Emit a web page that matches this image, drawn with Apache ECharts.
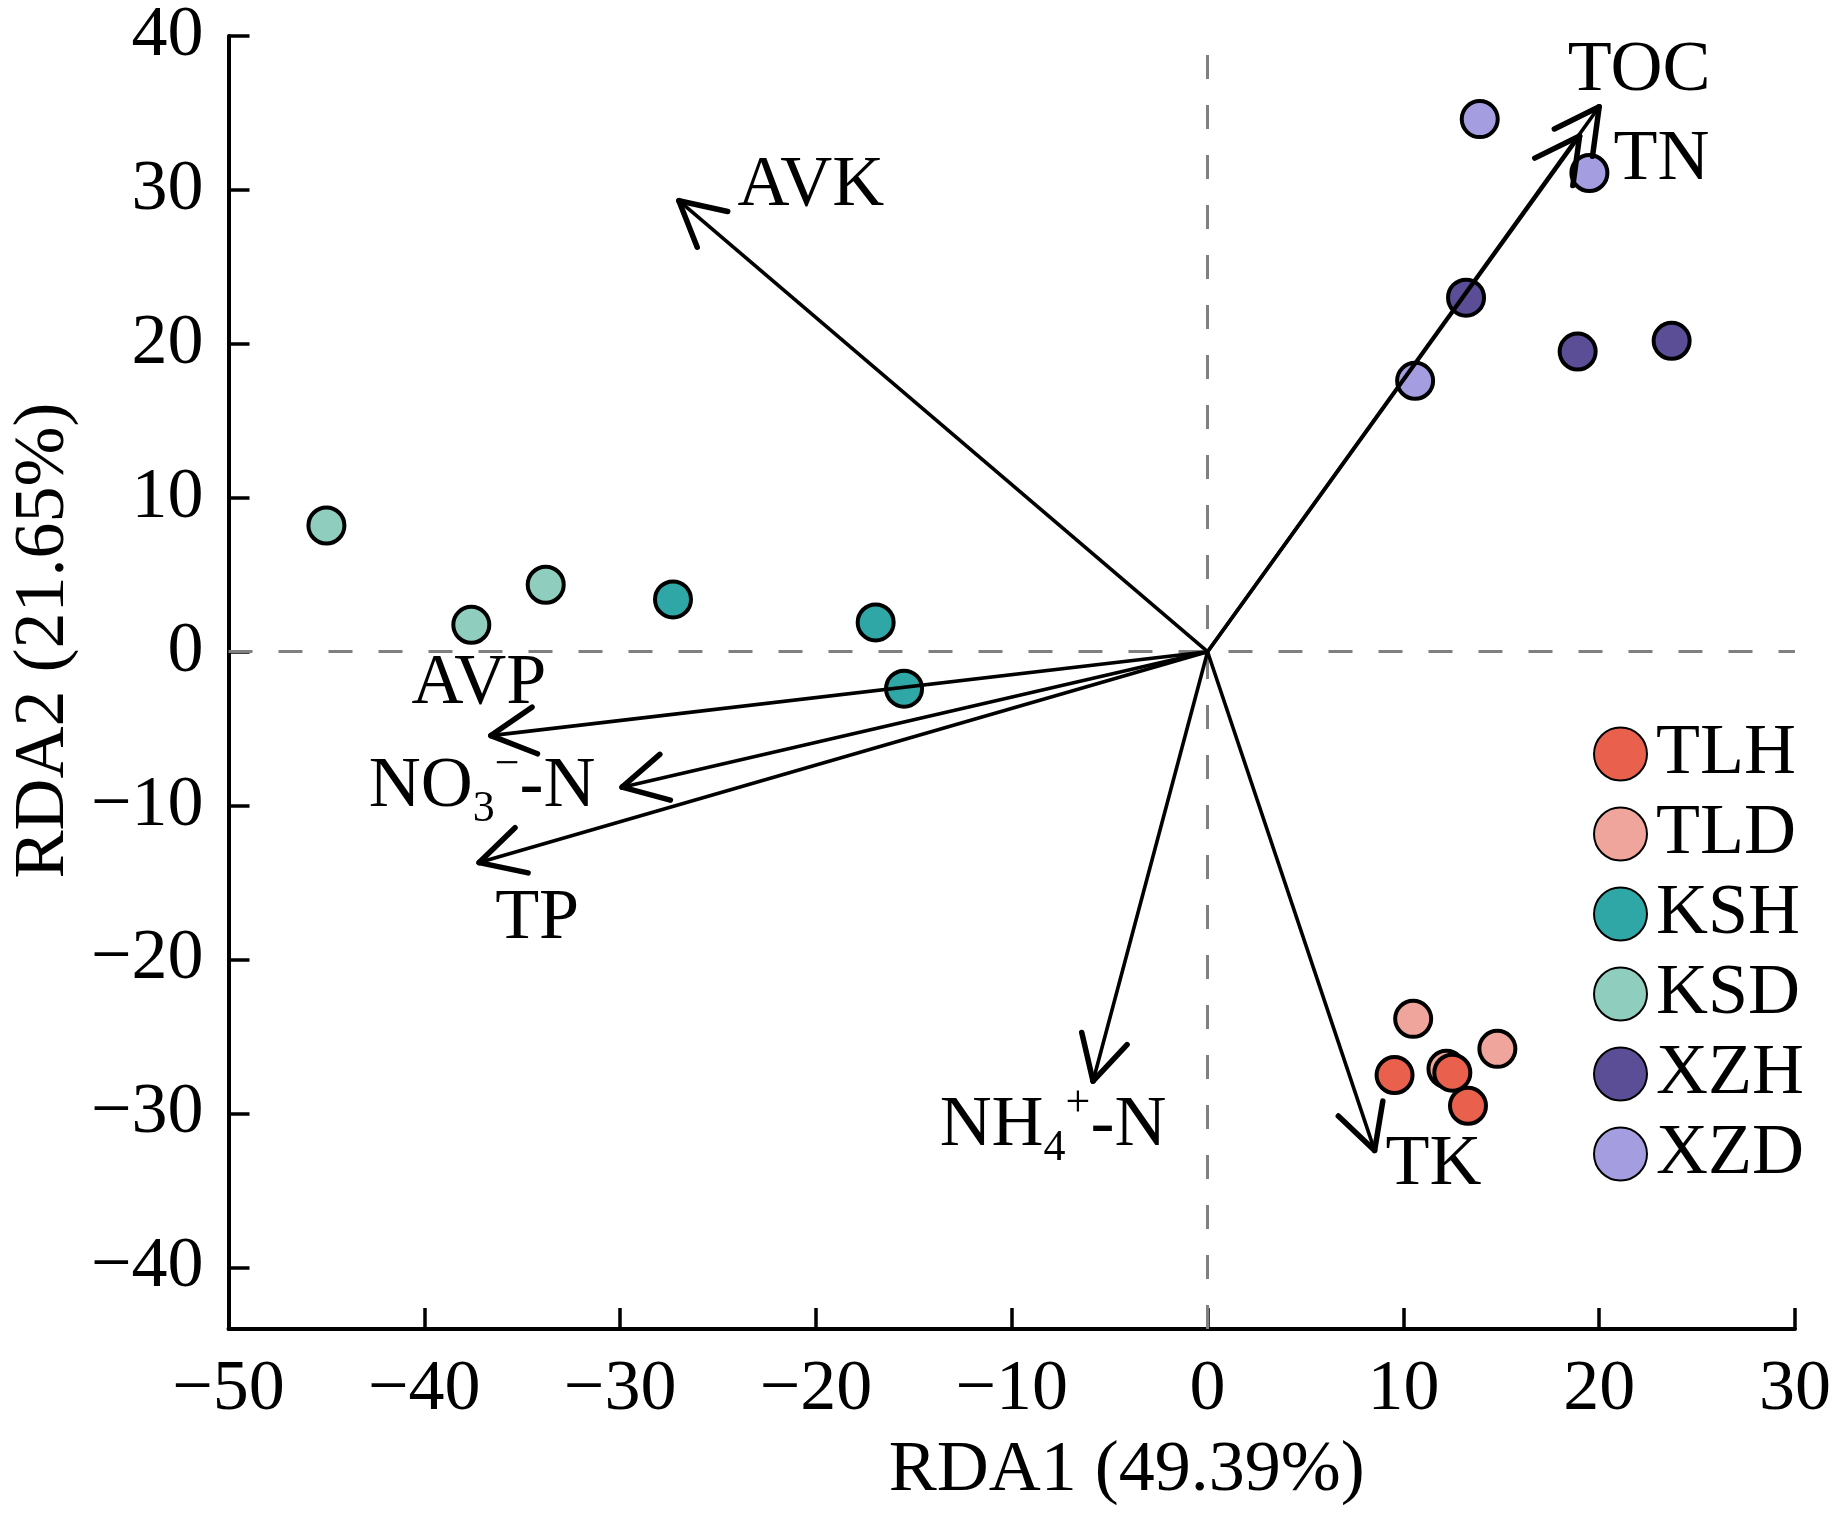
<!DOCTYPE html>
<html>
<head>
<meta charset="utf-8">
<script src="https://cdn.jsdelivr.net/npm/echarts@6.0.0/dist/echarts.min.js"></script>
<style>
  html, body { margin: 0; padding: 0; background: #fff; }
  #chart { width: 1834px; height: 1518px; }
</style>
</head>
<body>
<div id="chart"></div>
<script>
// sample scores (RDA1, RDA2)
var groups = ['TLD', 'TLH', 'KSH', 'KSD', 'XZH', 'XZD'];
var legendOrder = ['TLH', 'TLD', 'KSH', 'KSD', 'XZH', 'XZD'];
var groupColors = {
  TLH: '#E9604D', TLD: '#EFA59B', KSH: '#2FA7A6',
  KSD: '#8FCDBF', XZH: '#5B4E96', XZD: '#A49DE0'
};
var TLH = [[9.55, -27.5], [12.5, -27.35], [13.3, -29.5]];
var TLD = [[10.5, -23.85], [14.8, -25.8], [12.2, -27.1]];
var KSH = [[-27.3, 3.4], [-16.95, 1.9], [-15.5, -2.4]];
var KSD = [[-45.0, 8.2], [-37.6, 1.75], [-33.8, 4.35]];
var XZH = [[13.2, 23.0], [18.9, 19.5], [23.7, 20.2]];
var XZD = [[13.9, 34.6], [19.5, 31.1], [10.6, 17.6]];
var groupData = { TLH: TLH, TLD: TLD, KSH: KSH, KSD: KSD, XZH: XZH, XZD: XZD };

// environmental vectors
var vecLabels = ['{n|AVK}', '{n|TOC}', '{n|TN}', '{n|AVP}',
  '{n|NO}{sub|3}{sup|−}{n|-N}', '{n|TP}', '{n|NH}{sub|4}{sup|+}{n|-N}', '{n|TK}'];
var vecX = [-27.0, 20.0, 19.0, -36.6, -29.9, -37.2, -5.85, 8.53];
var vecY = [29.3, 35.4, 33.5, -5.45, -8.8, -13.7, -27.9, -32.4];

// label placement relative to arrow tip (px)
var labelOffsets = [[132, -15], [40, -36], [82, 24], [-12, -52], [-140, 0], [58, 56], [-40, 45], [59, 15]];

var yTicks = [-40, -30, -20, -10, 0, 10, 20, 30, 40];

var FONT = 'Liberation Serif';
var chart = echarts.init(document.getElementById('chart'));

var fmt = function (v) { return String(v).replace('-', '\u2212'); };

var series = groups.map(function (g, idx) {
  var s = {
    name: g,
    type: 'scatter',
    data: groupData[g],
    symbol: 'circle',
    symbolSize: 36,
    z: 3,
    itemStyle: { color: groupColors[g], borderColor: '#000', borderWidth: 4, opacity: 1 },
    emphasis: { disabled: true }
  };
  if (idx === 0) {
    s.markLine = {
      silent: true,
      symbol: 'none',
      z: 1,
      label: { show: false },
      lineStyle: { type: [24, 26], color: '#808080', width: 3 },
      data: [{ xAxis: 0 }, { yAxis: 0 }]
    };
  }
  return s;
});

var vecData = vecX.map(function (x, i) { return [x, vecY[i], i]; });

series.push({
  type: 'custom',
  z: 5,
  silent: true,
  data: vecData,
  renderItem: function (params, api) {
    var i = api.value(2);
    var o = api.coord([0, 0]);
    var t = api.coord([api.value(0), api.value(1)]);
    var ang = Math.atan2(o[1] - t[1], o[0] - t[0]);
    var L = 50, a = 28 * Math.PI / 180;
    var p1 = [t[0] + L * Math.cos(ang + a), t[1] + L * Math.sin(ang + a)];
    var p2 = [t[0] + L * Math.cos(ang - a), t[1] + L * Math.sin(ang - a)];
    var off = labelOffsets[i];
    return {
      type: 'group',
      children: [
        { type: 'line', shape: { x1: o[0], y1: o[1], x2: t[0], y2: t[1] },
          style: { stroke: '#000', lineWidth: 3.6 } },
        { type: 'line', shape: { x1: p1[0], y1: p1[1], x2: t[0], y2: t[1] },
          style: { stroke: '#000', lineWidth: 5.5, lineCap: 'round' } },
        { type: 'line', shape: { x1: p2[0], y1: p2[1], x2: t[0], y2: t[1] },
          style: { stroke: '#000', lineWidth: 5.5, lineCap: 'round' } },
        { type: 'text', x: t[0] + off[0], y: t[1] + off[1],
          style: {
            text: vecLabels[i], fill: '#000', align: 'center', verticalAlign: 'middle',
            fontSize: 72, fontFamily: FONT,
            rich: {
              n: { fontSize: 72, fontFamily: FONT, lineHeight: 88, fill: '#000' },
              sub: { fontSize: 44, fontFamily: FONT, lineHeight: 44, verticalAlign: 'bottom', fill: '#000' },
              sup: { fontSize: 44, fontFamily: FONT, lineHeight: 44, verticalAlign: 'top', fill: '#000' }
            }
          } }
      ]
    };
  }
});

var option = {
  animation: false,
  backgroundColor: '#fff',
  grid: { left: 228, right: 39, top: 35, bottom: 189 },
  legend: {
    data: legendOrder,
    orient: 'vertical',
    left: 1588,
    top: 713,
    icon: 'circle',
    itemWidth: 53,
    itemHeight: 53,
    itemGap: 8,
    textStyle: { fontSize: 72, fontFamily: FONT, color: '#000', lineHeight: 53, padding: [0, 0, 0, 4] },
    selectedMode: false
  },
  xAxis: {
    type: 'value',
    min: -50, max: 30, interval: 10,
    name: 'RDA1 (49.39%)',
    nameLocation: 'middle',
    nameGap: 106,
    nameTextStyle: { fontSize: 72, fontFamily: FONT, color: '#000', padding: [0, 0, 0, 230] },
    axisLine: { onZero: false, lineStyle: { color: '#000', width: 4 } },
    axisTick: { inside: true, length: 21, lineStyle: { color: '#000', width: 3.5 } },
    axisLabel: { fontSize: 72, fontFamily: FONT, color: '#000', margin: 25, formatter: fmt },
    splitLine: { show: false }
  },
  yAxis: {
    type: 'value',
    min: -44, max: 40,
    name: 'RDA2 (21.65%)',
    nameLocation: 'middle',
    nameGap: 145,
    nameRotate: 90,
    nameTextStyle: { fontSize: 72, fontFamily: FONT, color: '#000', padding: [0, 0, 0, 84] },
    axisLine: { onZero: false, lineStyle: { color: '#000', width: 4 } },
    axisTick: { inside: true, length: 21, customValues: yTicks, lineStyle: { color: '#000', width: 3.5 } },
    axisLabel: { fontSize: 72, fontFamily: FONT, color: '#000', margin: 25, customValues: yTicks, formatter: fmt },
    splitLine: { show: false }
  },
  series: series
};

chart.setOption(option);
</script>
</body>
</html>
